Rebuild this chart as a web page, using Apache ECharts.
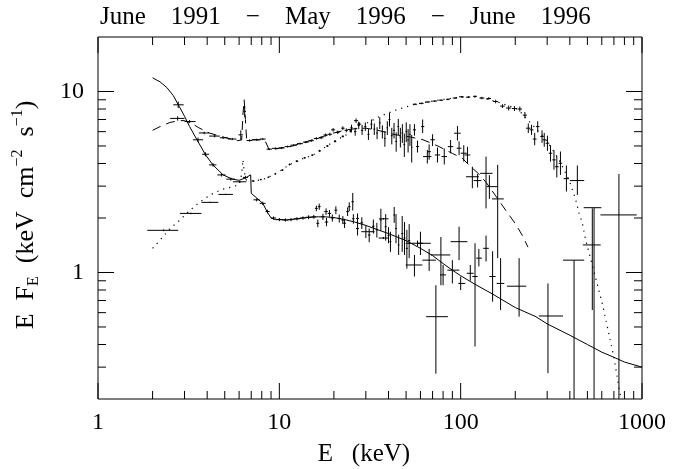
<!DOCTYPE html>
<html><head><meta charset="utf-8">
<script src="https://cdn.jsdelivr.net/npm/echarts@6/dist/echarts.min.js"></script>
<style>html,body{margin:0;padding:0;background:#fff}#c{width:674px;height:469px}</style>
</head><body><div id="c"></div>
<script>
// ---------- tick values ----------
const xMajorTicks = [1, 10, 100, 1000];
const xMinorTicks = [2,3,4,5,6,7,8,9,20,30,40,50,60,70,80,90,200,300,400,500,600,700,800,900];
const yMajorTicks = [1, 10];
const yMinorTicks = [0.3,0.4,0.5,0.6,0.7,0.8,0.9,2,3,4,5,6,7,8,9];

// ---------- models [E keV, E*F_E] ----------
const modelJun91 = [[2.0,1.36],[2.2,1.51],[2.5,1.75],[2.83,1.95],[3.2,2.2],[3.64,2.45],[4.2,2.7],[4.8,2.87],[5.55,2.98],[6.0,3.05],[6.2,3.5],[6.3,4.2],[6.4,3.6],[6.58,3.24],[7.0,3.2],[7.5,3.22],[8.48,3.31],[10,3.61],[11.4,3.95],[13,4.2],[15.3,4.45],[18,4.95],[20,5.3],[23.4,5.76],[28,6.4],[35.6,7.27],[44,7.9],[54.4,8.44],[65,8.75],[83,9.08],[100,9.3],[116,9.38],[135,9.15],[156,8.8],[180,8.4],[201,8.09],[220,7.5],[239,6.82],[265,6.1],[295,5.41],[320,4.8],[349,4.19],[396,3.24],[430,2.55],[450,2.12],[469,1.87],[489,1.51],[520,1.2],[560,0.9],[604,0.673],[650,0.48],[700,0.34],[746,0.232],[775,0.19]];
const modelMay96 = [[2.0,6.1],[2.2,6.4],[2.5,6.75],[2.8,6.9],[3.0,6.9],[3.3,6.65],[3.6,6.3],[4.1,5.9],[4.9,5.6],[5.9,5.35],[6.2,5.4],[6.3,7.5],[6.4,9.0],[6.5,7.0],[6.6,5.45],[7.0,5.41],[8.3,5.41],[8.8,4.75],[10,4.85],[11.4,4.95],[13,5.15],[15.3,5.4],[18,5.7],[20,5.9],[23.4,6.14],[27,6.25],[30,6.27],[35,6.1],[44,5.76],[53,5.6],[62,5.41],[70,5.15],[76,4.96],[90,4.55],[102,4.28],[111,3.93],[126,3.5],[138,3.15],[156,2.65],[177,2.21],[201,1.85],[219,1.6],[235,1.38]];
const modelJun96 = [[2.0,11.9],[2.2,11.3],[2.4,10.5],[2.6,9.5],[2.8,8.3],[3.0,7.3],[3.2,6.4],[3.5,5.45],[3.9,4.5],[4.3,3.93],[4.9,3.46],[5.5,3.28],[6.0,3.23],[6.5,3.33],[6.95,3.46],[7.0,2.74],[7.5,2.58],[8.1,2.41],[8.6,2.15],[9.0,2.0],[9.5,1.96],[10,1.96],[11,1.95],[12,1.97],[14,2.01],[16,2.03],[18,2.03],[20,2.01],[23,1.96],[26,1.9],[30,1.82],[35,1.72],[40,1.64],[50,1.5],[60,1.36],[70,1.24],[80,1.12],[90,1.03],[100,0.96],[120,0.86],[150,0.76],[200,0.64],[260,0.57],[300,0.52],[400,0.45],[500,0.40],[600,0.363],[700,0.34],[800,0.32],[1000,0.30]];

// ---------- data crosses [E, Elo, Ehi, F, Flo, Fhi] ----------
const dataJun91 = [
 [2.3,1.87,2.77,1.71,1.69,1.73],[3.25,2.83,3.72,2.12,2.10,2.14],[4.15,3.72,4.61,2.44,2.42,2.46],[5.05,4.61,5.55,2.70,2.68,2.72],[6.05,5.55,6.58,3.17,3.13,3.21],
 [7.2,7.1,7.3,3.2,3.17,3.23],[7.9,7.8,8.0,3.26,3.23,3.29],[8.7,8.6,8.8,3.36,3.33,3.39],[9.5,9.4,9.6,3.5,3.47,3.53],[10.4,10.25,10.55,3.68,3.64,3.72],[11.4,11.25,11.55,3.95,3.9,4.0],[12.5,12.3,12.7,4.12,4.07,4.17],[13.8,13.6,14.0,4.3,4.25,4.35],[15.2,15.0,15.4,4.45,4.4,4.5],[16.7,16.45,16.95,4.7,4.64,4.76],[18.4,18.1,18.7,5.0,4.94,5.06],[20.3,20.0,20.6,5.3,5.23,5.37],[22.4,22.05,22.75,5.65,5.57,5.73],[24.7,24.3,25.1,6.05,5.95,6.15],[26.5,25.8,27.2,6.9,6.7,7.1],[27.6,26.9,28.3,6.6,6.45,6.75],
 [56,54.5,57.5,8.5,8.4,8.6],[61,59.5,62.5,8.6,8.5,8.7],[66,64,68,8.75,8.65,8.85],[72,70,74,8.85,8.75,8.95],[78,76,80,8.95,8.85,9.05],[85,83,87,9.05,8.95,9.15],[93,90.5,95.5,9.2,9.1,9.3],[101,98,104,9.35,9.25,9.45],[110,107,113,9.3,9.2,9.4],[120,117,123,9.4,9.3,9.5],[131,127,135,9.2,9.05,9.35],[143,139,147,9.15,9.0,9.3],[156,151,161,8.8,8.6,9.0],[170,165,175,8.3,8.1,8.5],[184,178,190,8.1,7.85,8.35],[198,192,204,8.05,7.8,8.3],[212,206,218,8.0,7.75,8.25],[226,220,232,7.4,7.1,7.7],
 [236,229,243,6.27,5.9,6.65],[246,240,252,6.14,5.75,6.55],[256,250,262,5.46,5.05,5.9],[266,260,272,6.4,5.95,6.85],[281,275,287,5.64,5.2,6.1],[289,283,295,5.41,4.95,5.9],[301,294,308,5.18,4.7,5.7],[313,306,320,4.56,4.1,5.05],[327,320,334,4.19,3.7,4.73],[339,331,347,3.84,3.35,4.4],[355,347,363,4.01,3.46,4.66],[383,370,396,3.3,2.8,3.9],[440,400,480,3.22,2.68,3.9],
 [532,472,592,1.42,0.62,2.26],[544,477,597,2.28,0.05,2.28],[746,590,935,2.08,0.05,3.5],[422,367,480,1.17,0.05,1.17]
];
const dataMay96 = [
 [2.75,2.5,3.0,7.1,6.9,7.3],[3.2,3.0,3.45,6.82,6.7,6.95],[3.85,3.6,4.1,5.9,5.8,6.0],[4.4,4.1,4.7,5.67,5.58,5.76],[4.9,4.7,5.2,5.55,5.47,5.63],[5.5,5.2,5.8,5.46,5.38,5.54],[6.13,5.95,6.3,5.76,5.4,6.1],[6.44,6.35,6.55,7.77,7.2,8.3],[6.85,6.6,7.1,5.36,5.28,5.44],[7.5,7.1,7.8,5.41,5.34,5.48],[8.1,7.8,8.4,5.46,5.39,5.53],[8.8,8.5,9.1,4.8,4.74,4.86],[9.5,9.1,9.9,4.85,4.79,4.91],
 [10.3,9.9,10.7,4.88,4.82,4.94],[11.1,10.7,11.5,4.96,4.9,5.02],[12.0,11.5,12.5,5.05,4.98,5.12],[13.0,12.5,13.5,5.15,5.08,5.22],[14.0,13.5,14.5,5.25,5.18,5.32],[15.0,14.5,15.5,5.35,5.27,5.43],[16.0,15.5,16.5,5.5,5.41,5.59],[17.0,16.5,17.5,5.55,5.45,5.65],[18.0,17.5,18.5,5.75,5.64,5.86],[19.0,18.5,19.5,5.8,5.68,5.92],[19.8,19.3,20.3,6.14,6.0,6.28],[21.0,20.5,21.5,5.95,5.82,6.08],[22.4,21.9,22.9,6.27,6.12,6.42],[23.4,22.9,23.9,6.1,5.95,6.25],
 [25.0,24.6,25.4,6.3,6.05,6.55],[26.2,25.8,26.6,6.0,5.7,6.3],[27.4,27.0,27.8,6.5,6.2,6.8],[28.6,28.2,29.0,6.1,5.75,6.45],[29.8,29.4,30.2,6.4,6.05,6.75],[31.0,30.6,31.4,5.8,5.4,6.2],[32.2,31.8,32.6,6.6,6.2,7.0],[33.4,33.0,33.8,6.2,5.75,6.65],[34.6,34.2,35.0,5.9,5.45,6.35],[35.8,35.4,36.2,6.7,6.2,7.2],[37.0,36.6,37.4,6.0,5.5,6.5],[38.2,37.8,38.6,5.5,4.95,6.05],[39.4,39.0,39.8,6.3,5.75,6.85],[40.5,40.0,41.0,7.0,6.4,7.6],[41.7,41.2,42.2,5.7,5.1,6.3],[42.9,42.4,43.4,6.1,5.5,6.7],[44.1,43.6,44.6,5.3,4.65,5.95],[45.3,44.8,45.8,6.4,5.75,7.05],[46.5,46.0,47.0,5.6,4.9,6.3],[47.7,47.2,48.2,5.9,5.2,6.6],[48.9,48.4,49.4,5.1,4.35,5.85],[50.1,49.6,50.6,6.0,5.25,6.75],[51.3,50.8,51.8,5.4,4.6,6.2],[52.5,52.0,53.0,5.8,5.0,6.6],[53.7,53.2,54.2,4.9,4.05,5.75],
 [55.6,54.5,56.7,6.14,5.7,6.6],[57.8,56.7,59,4.96,4.6,5.35],[61.7,60.5,63,6.4,5.9,7.0],[65.5,62,69,4.37,4.0,4.75],[67,65.5,68.5,4.65,4.2,5.1],[70,68,72,5.41,5.0,5.8],[74.5,72,77,4.46,4.05,4.9],[81.2,78.5,84,4.37,3.95,4.85],[88,85,91,4.96,4.55,5.4],[96,92,100,5.88,5.35,6.45],[98,95,101,4.86,4.45,5.3],[104,100,108,4.56,4.1,5.05],[109,105,113,4.46,4.0,4.95],
 [116,107,126,3.38,2.92,3.84],[124,118,130,3.22,2.95,3.5],[138,128,150,3.53,2.26,4.37],[144,139,161,2.98,2.55,3.45],[160,149,173,2.55,1.2,3.93]
];
const dataJun96 = [
 [2.77,2.6,2.97,8.44,8.1,8.8],[3.56,3.34,3.8,5.41,5.25,5.57],[3.91,3.75,4.1,4.5,4.38,4.62],[4.31,4.1,4.5,3.93,3.84,4.02],[4.79,4.55,5.05,3.46,3.39,3.53],[5.4,5.1,5.7,3.28,3.22,3.34],[6.5,6.3,6.7,3.35,3.28,3.42],
 [7.5,7.2,7.8,2.52,2.47,2.57],[8.1,7.8,8.4,2.41,2.36,2.46],[8.6,8.4,8.85,2.17,2.12,2.22],[9.3,9.0,9.6,2.0,1.96,2.04],[10.0,9.6,10.4,1.96,1.92,2.0],[10.8,10.4,11.2,1.95,1.91,1.99],[11.6,11.2,12.0,1.96,1.92,2.0],[12.5,12.0,13.0,1.98,1.94,2.02],[13.5,13.0,14.0,2.0,1.96,2.04],[14.5,14.0,15.0,2.02,1.97,2.07],[15.5,15.0,16.0,2.03,1.98,2.08],
 [16.0,15.7,16.3,2.26,2.18,2.34],[16.6,16.3,16.9,2.31,2.22,2.4],[16.3,16.0,16.6,1.87,1.78,1.96],[17.4,17.0,17.8,2.03,1.95,2.11],[18.1,17.7,18.5,2.17,2.08,2.26],[18.2,17.8,18.6,1.9,1.8,2.0],[18.9,18.5,19.3,2.12,2.03,2.21],[19.6,19.2,20.0,2.0,1.91,2.09],[20.5,20.1,20.9,2.21,2.1,2.32],[21.4,21.0,21.8,1.99,1.89,2.09],[22.4,22.0,22.8,1.95,1.85,2.05],[22.9,22.5,23.3,1.87,1.76,1.98],[23.8,23.4,24.2,2.17,2.05,2.29],[24.3,23.9,24.7,2.31,2.18,2.44],[25.4,25.0,25.8,2.46,2.2,2.75],[25.6,25.2,26.0,1.98,1.86,2.1],[27.0,26.5,27.5,1.99,1.86,2.12],[27.0,26.5,27.5,1.75,1.6,1.9],[28.5,28.0,29.0,1.88,1.74,2.02],
 [30.0,28.3,33.5,1.68,1.55,1.82],[31.3,30.8,31.8,1.61,1.47,1.75],[33,32.5,33.5,1.8,1.64,1.96],[34.5,34,35,1.72,1.56,1.88],[36.3,35.8,36.8,1.95,1.7,2.25],[37.5,35.5,40,1.98,1.96,2.0],[37.5,35.3,40.2,1.55,1.53,1.57],[38.6,38.1,39.1,1.79,1.5,2.1],[40,39.5,40.5,1.6,1.45,1.78],[41,40.5,41.5,1.48,1.3,1.68],[43,42.5,43.5,2.08,1.88,2.3],[44,43.5,44.5,1.75,1.45,2.1],[45.5,45,46,1.42,1.25,1.62],[47.6,47,48.2,1.64,1.3,2.05],[49,48.4,49.6,1.55,1.25,1.9],[50.5,49.8,51.2,1.36,1.05,1.72],[52,51.3,52.7,1.5,1.2,1.85],
 [55.6,49.8,61.5,1.1,0.95,1.25],[57.8,49.8,68.4,1.45,1.4,1.5],[60,58,62,1.45,1.25,1.68],[67,61.5,73,1.17,1.02,1.35],[73,64.5,85,0.57,0.276,0.85],[77.8,68.4,87.6,1.25,0.85,1.57],[80,77,83,0.97,0.85,1.1],[90,84.5,98.3,1.03,0.87,1.17],[98,88,109,1.48,1.17,1.79],[100,97,106,0.87,0.8,0.95],[113,108,118,0.99,0.9,1.1],[120,116,124,0.95,0.39,1.45],[126,122,131,1.2,1.08,1.35],[138,133,143,1.36,1.15,1.6],[150,144,156,0.95,0.69,1.31],[166,158,174,0.87,0.62,1.2],[210,180,230,0.84,0.57,1.2],[303,270,367,0.575,0.278,0.87]
];

const FONT = 'Liberation Serif';

function clampBox(v, lo, hi) { return Math.max(lo, Math.min(hi, v)); }

function renderCross(params, api) {
  const cs = params.coordSys;
  const x0 = cs.x, x1 = cs.x + cs.width, y0 = cs.y, y1 = cs.y + cs.height;
  const E = api.value(0), El = api.value(1), Eh = api.value(2);
  const F = api.value(3), Fl = api.value(4), Fh = api.value(5);
  const a = api.coord([El, F]), b = api.coord([Eh, F]);
  const c = api.coord([E, Fl]), d = api.coord([E, Fh]);
  const children = [];
  if (a[1] >= y0 && a[1] <= y1) {
    children.push({type:'line', shape:{x1:clampBox(a[0],x0,x1), y1:a[1], x2:clampBox(b[0],x0,x1), y2:b[1]}, style:{stroke:'#000', lineWidth:1}});
  }
  if (c[0] >= x0 && c[0] <= x1) {
    children.push({type:'line', shape:{x1:c[0], y1:clampBox(c[1],y0,y1), x2:d[0], y2:clampBox(d[1],y0,y1)}, style:{stroke:'#000', lineWidth:1}});
  }
  return {type:'group', children};
}

// tick data: [x, y, kind] kind: 0 x-minor, 1 x-major, 2 y-minor, 3 y-major
const tickData = [];
xMinorTicks.forEach(v => tickData.push([v, 1, 0]));
xMajorTicks.forEach(v => tickData.push([v, 1, 1]));
yMinorTicks.forEach(v => tickData.push([10, v, 2]));
yMajorTicks.forEach(v => tickData.push([10, v, 3]));

function renderTick(params, api) {
  const cs = params.coordSys;
  const left = cs.x, right = cs.x + cs.width, top = cs.y, bottom = cs.y + cs.height;
  const kind = api.value(2);
  const p = api.coord([api.value(0), api.value(1)]);
  const st = {stroke:'#000', lineWidth:1};
  if (kind <= 1) {
    const len = kind === 1 ? 16 : 8;
    return {type:'group', children:[
      {type:'line', shape:{x1:p[0], y1:bottom, x2:p[0], y2:bottom-len}, style:st},
      {type:'line', shape:{x1:p[0], y1:top, x2:p[0], y2:top+len}, style:st}
    ]};
  } else {
    const len = kind === 3 ? 16 : 8;
    return {type:'group', children:[
      {type:'line', shape:{x1:left, y1:p[1], x2:left+len, y2:p[1]}, style:st},
      {type:'line', shape:{x1:right, y1:p[1], x2:right-len, y2:p[1]}, style:st}
    ]};
  }
}

const chart = echarts.init(document.getElementById('c'), null, {renderer:'canvas'});
const isPow10 = v => Math.abs(Math.log10(v) - Math.round(Math.log10(v))) < 1e-6;
chart.setOption({
  animation: false,
  backgroundColor: '#fff',
  title: {
    text: 'June    1991    \u2212    May    1996    \u2212    June    1996',
    left: 100, top: 5, padding: 0,
    textStyle: {fontFamily: FONT, fontSize: 25, fontWeight: 'normal', color: '#000'}
  },
  grid: {left: 98, right: 32, top: 37, bottom: 70, show: true, borderColor: '#000', borderWidth: 1, backgroundColor: 'transparent'},
  xAxis: {
    type: 'log', logBase: 10, min: 1, max: 1000,
    axisLine: {show: false}, axisTick: {show: false}, splitLine: {show: false},
    axisLabel: {margin: 12, fontFamily: FONT, fontSize: 24, color: '#000',
      formatter: v => isPow10(v) ? String(Math.round(v)) : ''}
  },
  yAxis: {
    type: 'log', logBase: 10, min: 0.2, max: 20,
    axisLine: {show: false}, axisTick: {show: false}, splitLine: {show: false},
    axisLabel: {margin: 14, fontFamily: FONT, fontSize: 24, color: '#000', showMinLabel: false, showMaxLabel: false,
      formatter: v => isPow10(v) ? String(Math.round(v)) : ''}
  },
  graphic: [
    {type: 'text', x: 364, y: 454, style: {text: 'E   (keV)', fontFamily: FONT, fontSize: 25, fill: '#000', align: 'center', verticalAlign: 'middle'}},
    {type: 'text', x: 26, y: 215, rotation: Math.PI / 2,
      style: {
        text: '{m|E  F}{sub|E}{m|  (keV  cm}{sup|\u22122}{m|  s}{sup|\u22121}{m|)}',
        align: 'center', verticalAlign: 'middle',
        rich: {
          m: {fontFamily: FONT, fontSize: 26, lineHeight: 32, fill: '#000'},
          sup: {fontFamily: FONT, fontSize: 16, lineHeight: 16, verticalAlign: 'top', fill: '#000'},
          sub: {fontFamily: FONT, fontSize: 16, lineHeight: 16, verticalAlign: 'bottom', fill: '#000'}
        }
      }}
  ],
  series: [
    {name: 'ticks', type: 'custom', renderItem: renderTick, data: tickData, silent: true, z: 5},
    {name: 'model Jun 1991', type: 'line', data: modelJun91, showSymbol: false, symbol: 'none', clip: true,
      lineStyle: {color: '#000', width: 1.2, type: [1.2, 5]}},
    {name: 'model May 1996', type: 'line', data: modelMay96, showSymbol: false, symbol: 'none', clip: true,
      lineStyle: {color: '#000', width: 1, type: [9, 6]}},
    {name: 'model Jun 1996', type: 'line', data: modelJun96, showSymbol: false, symbol: 'none', clip: true,
      lineStyle: {color: '#000', width: 1, type: 'solid'}},
    {name: 'Jun 1991', type: 'custom', renderItem: renderCross, data: dataJun91, silent: true},
    {name: 'May 1996', type: 'custom', renderItem: renderCross, data: dataMay96, silent: true},
    {name: 'Jun 1996', type: 'custom', renderItem: renderCross, data: dataJun96, silent: true}
  ]
});
</script></body></html>
